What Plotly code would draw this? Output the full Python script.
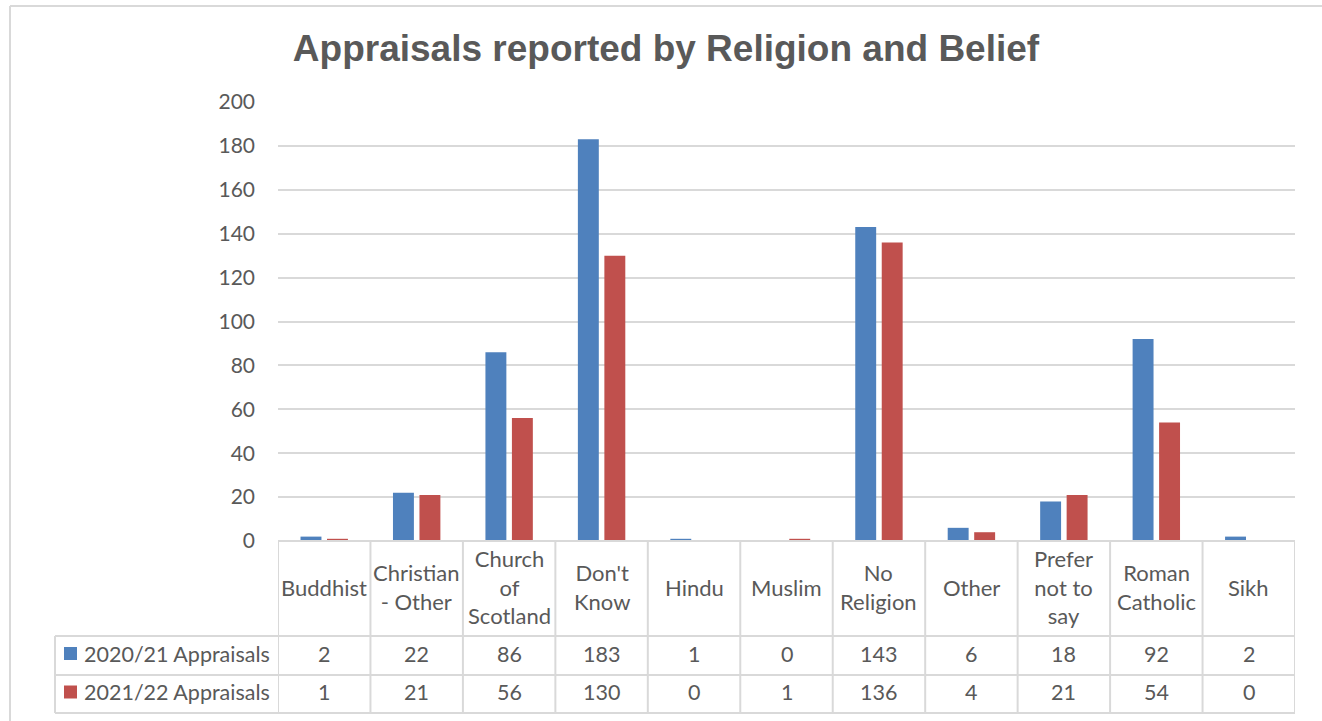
import plotly.graph_objects as go

# Appraisal counts by religion / belief
categories = ["Buddhist", "Christian - Other", "Church of Scotland", "Don't Know",
              "Hindu", "Muslim", "No Religion", "Other", "Prefer not to say",
              "Roman Catholic", "Sikh"]
header_labels = ["Buddhist", "Christian<br>- Other", "Church<br>of<br>Scotland",
                 "Don't<br>Know", "Hindu", "Muslim", "No<br>Religion", "Other",
                 "Prefer<br>not to<br>say", "Roman<br>Catholic", "Sikh"]
series_names = ["2020/21 Appraisals", "2021/22 Appraisals"]
appraisals_2020_21 = [2, 22, 86, 183, 1, 0, 143, 6, 18, 92, 2]
appraisals_2021_22 = [1, 21, 56, 130, 0, 1, 136, 4, 21, 54, 0]
y_ticks = list(range(0, 201, 20))

colors = ["#4F81BD", "#C0504D"]
text_color = "#595959"
line_color = "#D9D9D9"
font_family = "Lato"

W, H = 1322, 721
L, R, T, B = 278, 27, 102, 180
plot_w = W - L - R
plot_h = H - T - B


def px_x(px):
    return (px - L) / plot_w


def px_y(py):
    return (H - B - py) / plot_h


fig = go.Figure()
for name, vals, col in zip(series_names, [appraisals_2020_21, appraisals_2021_22], colors):
    fig.add_trace(go.Bar(
        x=list(range(len(categories))), y=vals, name=name,
        marker=dict(color=col, line=dict(width=0)),
        showlegend=False,
        hovertext=categories,
    ))

shapes = []
annotations = []

# Outer chart border (top and left)
shapes.append(dict(type="line", xref="paper", yref="paper",
                   x0=px_x(10), x1=px_x(W + 5), y0=px_y(6), y1=px_y(6),
                   line=dict(color=line_color, width=2)))
shapes.append(dict(type="line", xref="paper", yref="paper",
                   x0=px_x(10), x1=px_x(10), y0=px_y(6), y1=px_y(H + 5),
                   line=dict(color=line_color, width=2)))

# Data table below the plot
n = len(categories)
y_top = 0.0
y_head = px_y(636)
y_row1 = px_y(675)
y_row2 = px_y(713)
x_leg = px_x(55)

tl = dict(color=line_color, width=2)
# horizontal lines
shapes.append(dict(type="line", xref="x", yref="paper", x0=-0.5, x1=n - 0.5,
                   y0=y_top, y1=y_top, line=tl))
for yy in (y_head, y_row1, y_row2):
    shapes.append(dict(type="line", xref="paper", yref="paper", x0=x_leg, x1=1,
                       y0=yy, y1=yy, line=tl))
# vertical lines
for i in range(n + 1):
    shapes.append(dict(type="line", xref="x", yref="paper", x0=i - 0.5, x1=i - 0.5,
                       y0=y_top, y1=y_row2, line=tl))
shapes.append(dict(type="line", xref="paper", yref="paper", x0=x_leg, x1=x_leg,
                   y0=y_head, y1=y_row2, line=tl))

# header labels
for i, lab in enumerate(header_labels):
    annotations.append(dict(x=i, y=(y_top + y_head) / 2 + 1.5 / plot_h, xref="x", yref="paper",
                            text=lab, showarrow=False, xanchor="center", yanchor="middle",
                            font=dict(family=font_family, size=22, color=text_color)))

# series rows
row_centers = [(y_head + y_row1) / 2, (y_row1 + y_row2) / 2]
for name, vals, col, yc in zip(series_names, [appraisals_2020_21, appraisals_2021_22],
                               colors, row_centers):
    half = 6.5 / plot_h
    ty = yc + 2 / plot_h
    shapes.append(dict(type="rect", xref="paper", yref="paper",
                       x0=px_x(64), x1=px_x(77), y0=ty - half, y1=ty + half,
                       fillcolor=col, line=dict(width=0)))
    annotations.append(dict(x=px_x(82), y=ty, xref="paper", yref="paper", text=name,
                            showarrow=False, xanchor="left", yanchor="middle",
                            font=dict(family=font_family, size=21.5, color=text_color)))
    for i, v in enumerate(vals):
        annotations.append(dict(x=i, y=ty, xref="x", yref="paper", text=str(v),
                                showarrow=False, xanchor="center", yanchor="middle",
                                font=dict(family=font_family, size=21.5, color=text_color)))

fig.update_layout(
    width=W, height=H,
    margin=dict(l=L, r=R, t=T, b=B, pad=0),
    paper_bgcolor="white", plot_bgcolor="white",
    title=dict(text="<b>Appraisals reported by Religion and Belief</b>",
               x=666 / W, xanchor="center",
               y=1 - 48 / H, yanchor="middle",
               font=dict(family="Liberation Sans", size=37, color=text_color)),
    barmode="group", bargap=0.427, bargroupgap=0.21,
    xaxis=dict(range=[-0.5, n - 0.5], showticklabels=False, showgrid=False,
               zeroline=False, showline=False, fixedrange=True),
    yaxis=dict(range=[0, 200], tickvals=y_ticks, showgrid=True, gridcolor=line_color,
               gridwidth=1.5, zeroline=False, showline=False,
               tickfont=dict(family=font_family, size=21, color=text_color),
               ticklabelstandoff=22),
    shapes=shapes, annotations=annotations,
)

fig.write_html("out.html")
